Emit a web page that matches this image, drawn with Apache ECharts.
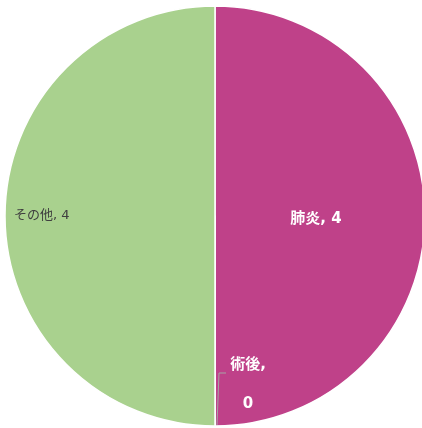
<!DOCTYPE html>
<html>
<head>
<meta charset="utf-8">
<script src="https://cdn.jsdelivr.net/npm/echarts@6/dist/echarts.min.js"></script>
<style>
html,body{margin:0;padding:0;background:#fff;}
#main{width:422px;height:428px;}
</style>
</head>
<body>
<div id="main"></div>
<script>
//データ
var categories = ['肺炎', '術後', 'その他'];
var values = [4, 0, 4];

var palette = ['#bf4189', '#7a9fd4', '#a9d18e'];
var font = '"DejaVu Sans", "Noto Sans CJK JP", sans-serif';

// 円の位置
var cx = 215, cy = 216, r = 210;
var guideLen = 53, guideLen2 = 7;

var pieData = [];
for (var i = 0; i < categories.length; i++) {
	pieData.push({ name: categories[i], value: values[i] });
}
// 肺炎: 内側の白い太字
pieData[0].label = { position: 'inside', color: '#fff', fontWeight: 'bold', fontSize: 15, offset: [-7, 3] };
// 術後: 内側に折り返し
pieData[1].label = {
	position: 'outside', color: '#fff', fontWeight: 'bold', fontSize: 15,
	formatter: '{t|{b},}\n{t|{c}}', padding: [23, 0, 0, 0],
	rich: { t: { width: 42, align: 'center', lineHeight: 39, color: '#fff', fontWeight: 'bold', fontSize: 15, fontFamily: font } }
};
pieData[1].labelLine = { show: false, length: -guideLen, length2: guideLen2 };
// その他: 左端寄せ
pieData[2].label = { position: 'outside', alignTo: 'edge', edgeDistance: 14, color: '#404040', fontSize: 13 };
pieData[2].labelLine = { show: false };

var myChart = echarts.init(document.getElementById('main'));
var option = {
	animation: false,
	color: palette,
	series: [{
		type: 'pie',
		center: [cx, cy],
		radius: [0, r],
		startAngle: 90,
		clockwise: true,
		avoidLabelOverlap: false,
		stillShowZeroSum: true,
		itemStyle: { borderColor: '#fff', borderWidth: 1.5 },
		label: { show: true, fontFamily: font, formatter: '{b}, {c}' },
		labelLine: { show: false },
		data: pieData
	}],
	// 0件の引き出し線
	graphic: [{
		type: 'polyline',
		z: 100,
		shape: { points: [[cx + 2, cy + r - 1], [cx + 4, cy + r - guideLen], [cx + 4 + guideLen2, cy + r - guideLen]] },
		style: { stroke: '#a6a6a6', lineWidth: 1, fill: null }
	}]
};
myChart.setOption(option);
</script>
</body>
</html>
